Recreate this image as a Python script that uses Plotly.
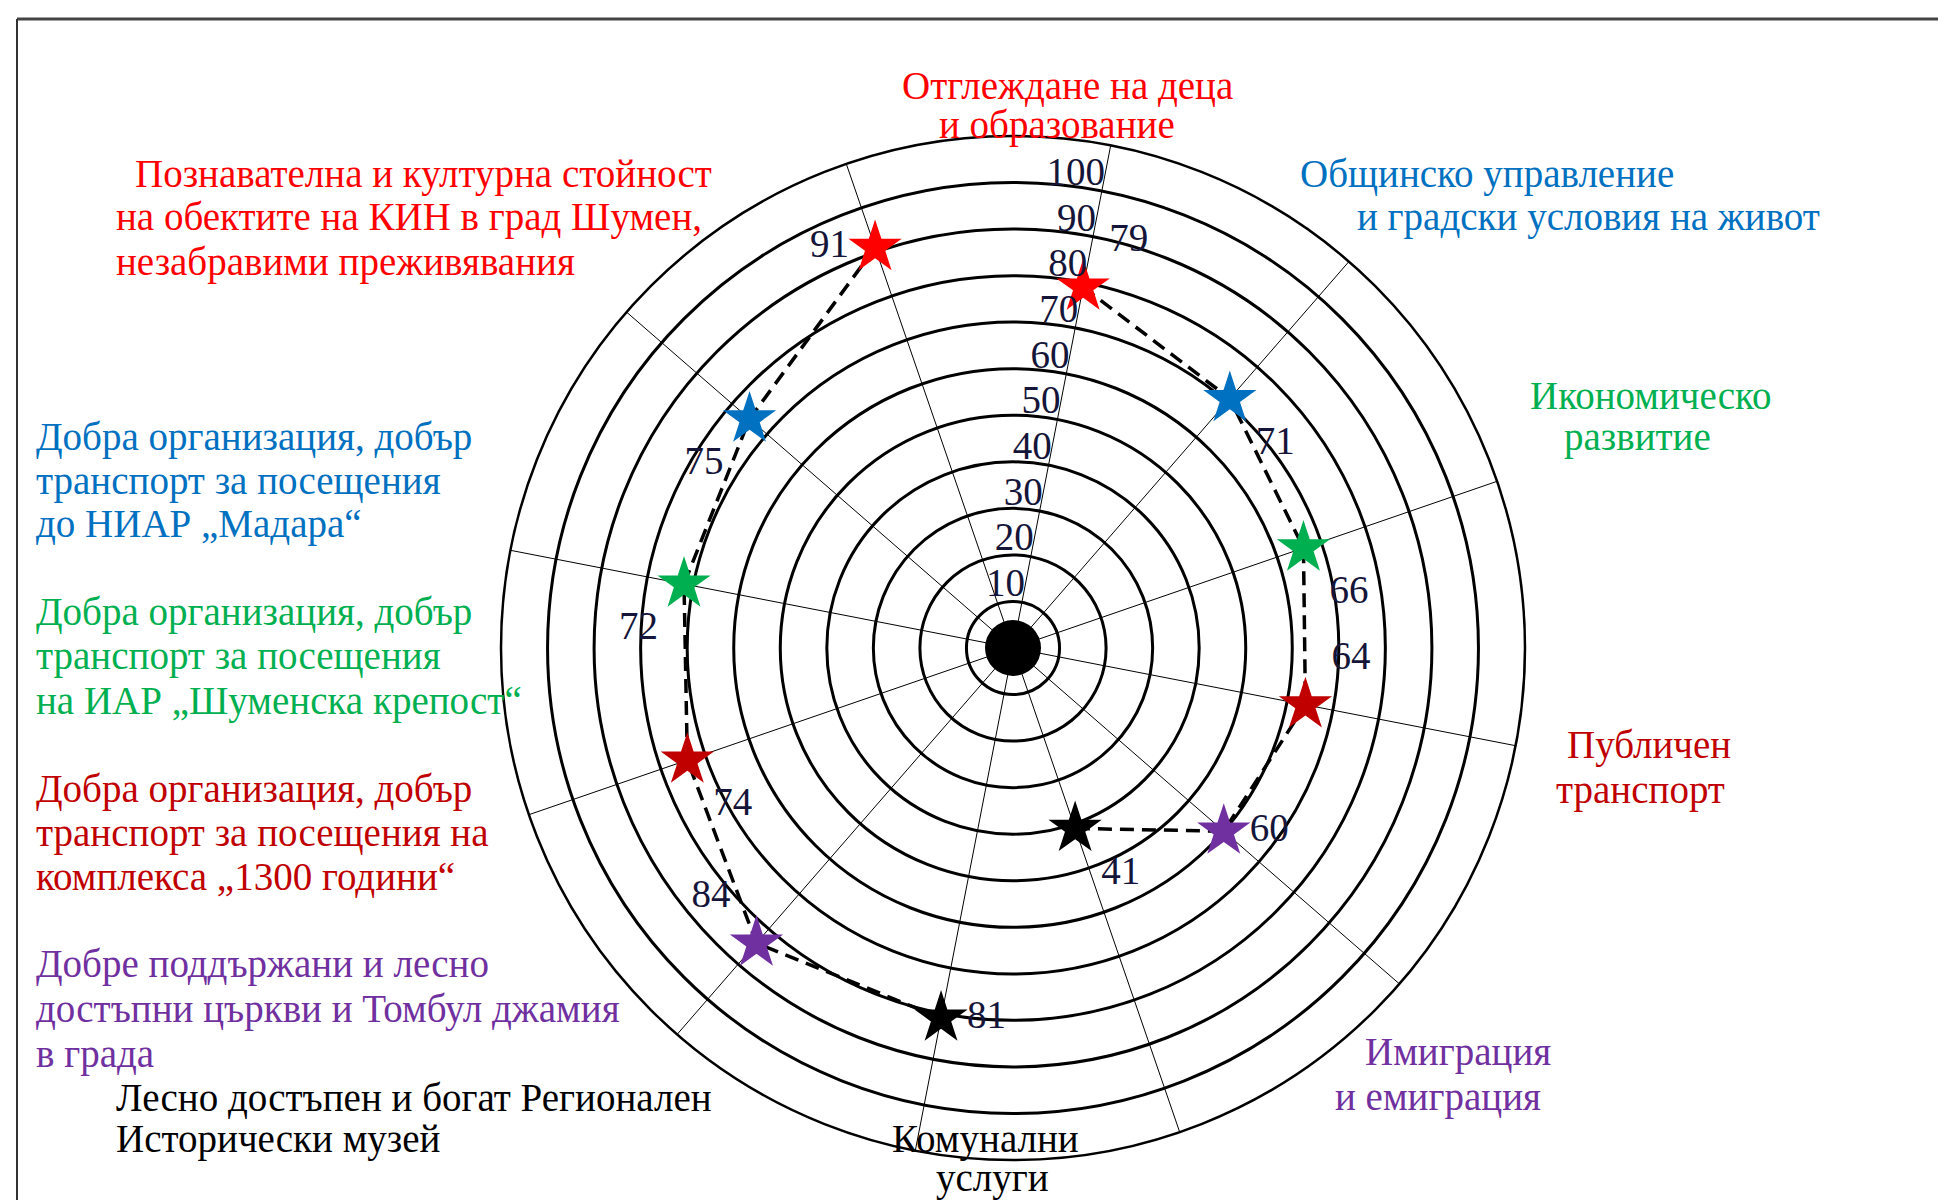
import plotly.graph_objects as go

# ---------------- data ----------------
categories = [
    "Отглеждане на деца и образование",
    "Общинско управление и градски условия на живот",
    "Икономическо развитие",
    "Публичен транспорт",
    "Имиграция и емиграция",
    "Комунални услуги",
    "Лесно достъпен и богат Регионален Исторически музей",
    "Добре поддържани и лесно достъпни църкви и Томбул джамия в града",
    "Добра организация, добър транспорт за посещения на комплекса „1300 години“",
    "Добра организация, добър транспорт за посещения на ИАР „Шуменска крепост“",
    "Добра организация, добър транспорт за посещения до НИАР „Мадара“",
    "Познавателна и културна стойност на обектите на КИН в град Шумен, незабравими преживявания",
]
values = [79, 71, 66, 64, 60, 41, 81, 84, 74, 72, 75, 91]
radial_ticks = [10, 20, 30, 40, 50, 60, 70, 80, 90, 100]
# dashed polyline is broken after these category indices
line_break_after = [5]

# ---------------- styles ----------------
RED = "#ff0000"
BLUE = "#0070c0"
GREEN = "#00b050"
DRED = "#c00000"
PURPLE = "#7030a0"
BLACK = "#000000"
star_colors = [RED, BLUE, GREEN, DRED, PURPLE, BLACK, BLACK, PURPLE, DRED, GREEN, BLUE, RED]
value_text_pos = ["top right", "bottom right", "bottom right", "top right", "middle right",
                  "bottom right", "middle right", "top left", "bottom right", "bottom left",
                  "bottom left", "middle left"]
FONT = "Liberation Serif"
FS = 39
NUMCOL = "#15153a"

W, H = 1946, 1200
cx, cy, R = 1005, 640, 512
DY = -8  # vertical nudge for annotation lines

fig = go.Figure()

# dashed connecting line (with gap)
line_r, line_t = [], []
for i, (c, v) in enumerate(zip(categories, values)):
    line_r.append(v)
    line_t.append(c)
    if i in line_break_after:
        line_r.append(None)
        line_t.append(c)
fig.add_trace(go.Scatterpolar(
    r=line_r, theta=line_t, mode="lines", connectgaps=False,
    line=dict(color="black", width=3.5, dash="14px,8px"),
    hoverinfo="skip", showlegend=False))

# central black dot
fig.add_trace(go.Scatterpolar(
    r=[0], theta=[categories[0]], mode="markers",
    marker=dict(symbol="circle", size=56, color="black"),
    hoverinfo="skip", showlegend=False))

# stars
fig.add_trace(go.Scatterpolar(
    r=values, theta=categories, mode="markers+text",
    marker=dict(symbol="star", size=40, color=star_colors, line=dict(width=0)),
    text=[str(v) for v in values], textposition=value_text_pos,
    textfont=dict(family=FONT, size=FS, color=NUMCOL),
    showlegend=False))

# radial scale labels along the first axis
fig.add_trace(go.Scatterpolar(
    r=[t + 3.5 for t in radial_ticks], theta=[categories[0]] * len(radial_ticks),
    mode="text", text=[str(t) for t in radial_ticks], textposition="middle left",
    textfont=dict(family=FONT, size=FS, color=NUMCOL),
    hoverinfo="skip", showlegend=False))

fig.update_layout(
    width=W, height=H,
    margin=dict(l=0, r=0, t=0, b=0),
    paper_bgcolor="white", plot_bgcolor="white",
    font=dict(family=FONT, size=FS, color="black"),
    polar=dict(
        domain=dict(x=[(cx - R) / W, (cx + R) / W], y=[1 - (cy + R) / H, 1 - (cy - R) / H]),
        bgcolor="white",
        radialaxis=dict(range=[0, 110], tickvals=radial_ticks, showticklabels=False,
                        ticks="", showline=False, showgrid=True,
                        gridcolor="black", gridwidth=2.5),
        angularaxis=dict(rotation=79, direction="clockwise", showticklabels=False,
                         ticks="", showline=True, linecolor="black", linewidth=2.5,
                         showgrid=True, gridcolor="black", gridwidth=1.3),
    ),
)

def line(text, x, y, color, xanchor="left"):
    fig.add_annotation(text=text, x=x / W, y=1 - (y + DY) / H, xref="paper", yref="paper",
                       xanchor=xanchor, yanchor="middle", showarrow=False,
                       font=dict(family=FONT, size=FS, color=color))

# top
line("Отглеждане на деца", 1059, 86, RED, "center")
line("и образование", 1049, 125, RED, "center")
# municipal
line("Общинско управление", 1290, 174, BLUE)
line("и градски условия на живот", 1347, 217, BLUE)
# economy
line("Икономическо", 1642, 395, GREEN, "center")
line("развитие", 1629, 437, GREEN, "center")
# transport
line("Публичен", 1641, 745, DRED, "center")
line("транспорт", 1632, 790, DRED, "center")
# migration
line("Имиграция", 1450, 1052, PURPLE, "center")
line("и емиграция", 1430, 1097, PURPLE, "center")
# utilities
line("Комунални", 977, 1139, BLACK, "center")
line("услуги", 984, 1178, BLACK, "center")
# museum
line("Лесно достъпен и богат Регионален", 106, 1097, BLACK)
line("Исторически музей", 106, 1139, BLACK)
# churches
line("Добре поддържани и лесно", 26, 964, PURPLE)
line("достъпни църкви и Томбул джамия", 26, 1009, PURPLE)
line("в града", 26, 1054, PURPLE)
# 1300
line("Добра организация, добър", 26, 789, DRED)
line("транспорт за посещения на", 26, 833, DRED)
line("комплекса „1300 години“", 26, 876, DRED)
# Shumen fortress
line("Добра организация, добър", 26, 612, GREEN)
line("транспорт за посещения", 26, 656, GREEN)
line("на ИАР „Шуменска крепост“", 26, 701, GREEN)
# Madara
line("Добра организация, добър", 26, 437, BLUE)
line("транспорт за посещения", 26, 481, BLUE)
line("до НИАР „Мадара“", 26, 524, BLUE)
# cultural value
line("Познавателна и културна стойност", 125, 174, RED)
line("на обектите на КИН в град Шумен,", 106, 217, RED)
line("незабравими преживявания", 106, 262, RED)

# page frame
fig.add_shape(type="line", xref="paper", yref="paper", x0=9 / W, x1=1, y0=1 - 11 / H, y1=1 - 11 / H,
              line=dict(color="#444444", width=3))
fig.add_shape(type="line", xref="paper", yref="paper", x0=9 / W, x1=9 / W, y0=0, y1=1 - 11 / H,
              line=dict(color="#333333", width=2))

fig.write_html("out.html")
